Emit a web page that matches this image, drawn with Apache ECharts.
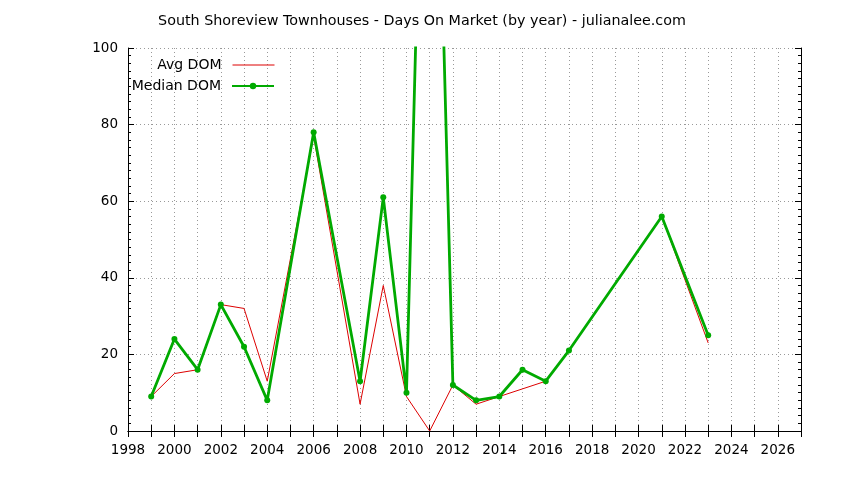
<!DOCTYPE html>
<html>
<head>
<meta charset="utf-8">
<script src="https://cdn.jsdelivr.net/npm/echarts@6/dist/echarts.min.js"></script>
<style>
html,body{margin:0;padding:0;background:#fff;}
#c{width:844px;height:480px;}
</style>
</head>
<body>
<div id="c"></div>
<script>
const titleText = 'South Shoreview Townhouses - Days On Market (by year) - julianalee.com';
const years     = [1999, 2000, 2001, 2002, 2003, 2004, 2006, 2008, 2009, 2010, 2011, 2012, 2013, 2014, 2015, 2016, 2017, 2021, 2023];
const avgDom    = [9,    15,   16,   33,   32,   13,   77,   7,    38,   9,    0,    12,   7,    9,    11,   13,   21,   56,   23];
const medianDom = [9,    24,   16,   33,   22,   8,    78,   13,   61,   10,   240,  12,   8,    9,    16,   13,   21,   56,   25];
const seriesNames = ['Avg DOM', 'Median DOM'];

const FONT = 'DejaVu Sans';
const FS = 13.5;

const chart = echarts.init(document.getElementById('c'), null, {renderer: 'canvas'});

const pairs = (xs, ys) => xs.map((x, i) => [x, ys[i]]);

const gridDot = {show: true, lineStyle: {color: '#999999', type: [1, 3], width: 1}};

chart.setOption({
  animation: false,
  backgroundColor: '#ffffff',
  title: {
    text: titleText,
    left: 'center',
    top: 9,
    textStyle: {fontFamily: FONT, fontSize: 14.3, fontWeight: 'normal', color: '#000'}
  },
  legend: [
    {
      data: [seriesNames[0]],
      orient: 'vertical',
      right: 564,
      top: 53,
      align: 'right',
      itemWidth: 42,
      itemHeight: 8,
      itemStyle: {opacity: 0},
      lineStyle: {width: 1},
      textStyle: {fontFamily: FONT, fontSize: 14, color: '#000', padding: [0, 6, 0, 0]}
    },
    {
      data: [seriesNames[1]],
      orient: 'vertical',
      right: 564,
      top: 74,
      align: 'right',
      itemWidth: 42,
      itemHeight: 8,
      textStyle: {fontFamily: FONT, fontSize: 14, color: '#000', padding: [0, 6, 0, 0]}
    }
  ],
  grid: {left: 128, right: 43, top: 48, bottom: 49, containLabel: false},
  xAxis: [
    {
      type: 'value', min: 1998, max: 2027, interval: 1,
      axisLine: {show: true, lineStyle: {color: '#000', width: 1}},
      axisTick: {show: true, inside: true, length: 6, lineStyle: {color: '#000'}},
      axisLabel: {
        fontFamily: FONT, fontSize: FS, color: '#000', margin: 12,
        formatter: v => (v % 2 === 0 ? String(v) : '')
      },
      splitLine: gridDot
    },
    {
      type: 'value', min: 1998, max: 2027, interval: 1, position: 'top',
      axisLine: {show: true, lineStyle: {color: '#000', width: 1}},
      axisTick: {show: true, inside: true, length: 6, lineStyle: {color: '#000'}},
      axisLabel: {show: false},
      splitLine: {show: false}
    }
  ],
  yAxis: [
    {
      type: 'value', min: 0, max: 100, interval: 20,
      axisLine: {show: true, lineStyle: {color: '#000', width: 1}},
      axisTick: {show: true, inside: true, length: 6, lineStyle: {color: '#000'}},
      minorTick: {show: true, splitNumber: 10, length: 3, lineStyle: {color: '#000'}},
      axisLabel: {fontFamily: FONT, fontSize: FS, color: '#000', margin: 10},
      splitLine: gridDot
    },
    {
      type: 'value', min: 0, max: 100, interval: 20, position: 'right',
      axisLine: {show: true, lineStyle: {color: '#000', width: 1}},
      axisTick: {show: true, inside: true, length: 6, lineStyle: {color: '#000'}},
      minorTick: {show: true, splitNumber: 10, length: 3, lineStyle: {color: '#000'}},
      axisLabel: {show: false},
      splitLine: {show: false}
    }
  ],
  series: [
    {
      name: seriesNames[0],
      type: 'line',
      data: pairs(years, avgDom),
      symbol: 'none',
      clip: true,
      color: '#dd0000',
      lineStyle: {color: '#dd0000', width: 1},
      z: 2
    },
    {
      name: seriesNames[1],
      type: 'line',
      data: pairs(years, medianDom),
      symbol: 'circle',
      symbolSize: 6,
      showSymbol: true,
      clip: true,
      color: '#00aa00',
      itemStyle: {color: '#00aa00'},
      lineStyle: {color: '#00aa00', width: 2.8},
      z: 3
    }
  ]
});
</script>
</body>
</html>
